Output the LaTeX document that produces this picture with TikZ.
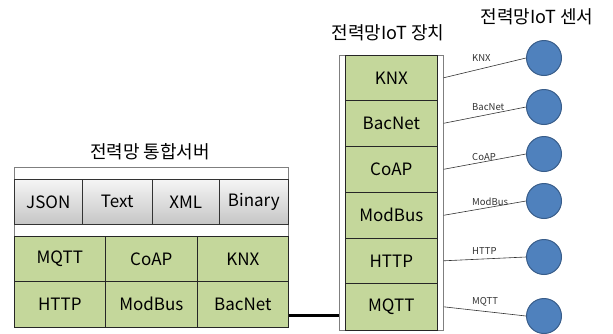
\documentclass[tikz,border=0pt]{standalone}
\usepackage{fontspec}
\setmainfont{Noto Sans CJK KR}
\usetikzlibrary{positioning,calc}
\definecolor{cgreen}{HTML}{C4D79B}
\definecolor{cblue}{HTML}{4F81BD}
\definecolor{cbluedark}{HTML}{385D8A}
\definecolor{cframe}{HTML}{7F7F7F}
\tikzset{
  cell/.style={draw=black!85, line width=0.6pt, fill=cgreen, inner sep=0pt, font=\fontsize{17}{19}\selectfont},
  graycell/.style={draw=black!80, line width=0.6pt, top color=gray!8, bottom color=gray!45, inner sep=0pt, font=\fontsize{17}{19}\selectfont},
  frame/.style={draw=cframe, line width=0.6pt, fill=white},
  title/.style={font=\fontsize{18}{20}\selectfont, inner sep=0pt},
  sensor/.style={circle, draw=cbluedark, line width=1pt, fill=cblue, minimum size=35pt, inner sep=0pt},
  link/.style={draw=black!80, line width=0.6pt},
  tag/.style={font=\fontsize{9.5}{10}\selectfont, anchor=west, inner sep=0pt, text=black!80},
  bus/.style={draw=black, line width=3pt}
}
\newcommand{\boxnode}[6]{% name, style, x1, y1, x2, y2 ; text in next
  \node[#2, minimum width={#5-#3}, minimum height={#6-#4}, anchor=north west] (#1) at (#3,#4)}
\begin{document}
\begin{tikzpicture}[x=1pt,y=-1pt]
\useasboundingbox (0,0) rectangle (613,333);
% ---- server ----
\node[title] (srvtitle) at (150,152) {전력망 통합서버};
\node[frame, minimum width=274pt, minimum height=160pt, anchor=north west, inner sep=0pt] (srv) at (14,167) {};
\boxnode{g1}{graycell}{14}{179}{82}{224} {JSON};
\boxnode{g2}{graycell}{82}{179}{152}{224} {Text};
\boxnode{g3}{graycell}{152}{179}{219}{224} {XML};
\boxnode{g4}{graycell}{219}{179}{288}{224} {Binary};
\boxnode{s1}{cell}{14}{236}{105}{281} {MQTT};
\boxnode{s2}{cell}{105}{236}{197}{281} {CoAP};
\boxnode{s3}{cell}{197}{236}{288}{281} {KNX};
\boxnode{s4}{cell}{14}{281}{105}{327} {HTTP};
\boxnode{s5}{cell}{105}{281}{197}{327} {ModBus};
\boxnode{s6}{cell}{197}{281}{288}{327} {BacNet};
% ---- device ----
\node[title] (devtitle) at (388,33) {전력망IoT 장치};
\node[frame, minimum width=104pt, minimum height=275pt, anchor=north west, inner sep=0pt] (dev) at (339,55) {};
\boxnode{d1}{cell}{345}{55}{437}{100} {KNX};
\boxnode{d2}{cell}{345}{100}{437}{146} {BacNet};
\boxnode{d3}{cell}{345}{146}{437}{192} {CoAP};
\boxnode{d4}{cell}{345}{192}{437}{238} {ModBus};
\boxnode{d5}{cell}{345}{238}{437}{283} {HTTP};
\boxnode{d6}{cell}{345}{283}{437}{330} {MQTT};
% ---- bus ----
\coordinate (busy) at (0,315);
\draw[bus] (srv.east |- busy) -- (dev.west |- busy);
% ---- sensors ----
\node[title] (sentitle) at (537,17) {전력망IoT 센서};
\node[sensor] (c1) at (544,58) {};
\node[sensor] (c2) at (544,107) {};
\node[sensor] (c3) at (544,154) {};
\node[sensor] (c4) at (544,201) {};
\node[sensor] (c5) at (544,257) {};
\node[sensor] (c6) at (544,316) {};
\foreach \i/\t/\ty in {1/KNX/58,2/BacNet/107,3/CoAP/157,4/ModBus/202,5/HTTP/251,6/MQTT/302}{
  \draw[link] (d\i.center -| dev.east) -- (c\i.west);
  \node[tag] (t\i) at (472,\ty) {\t};
}
\end{tikzpicture}
\end{document}
